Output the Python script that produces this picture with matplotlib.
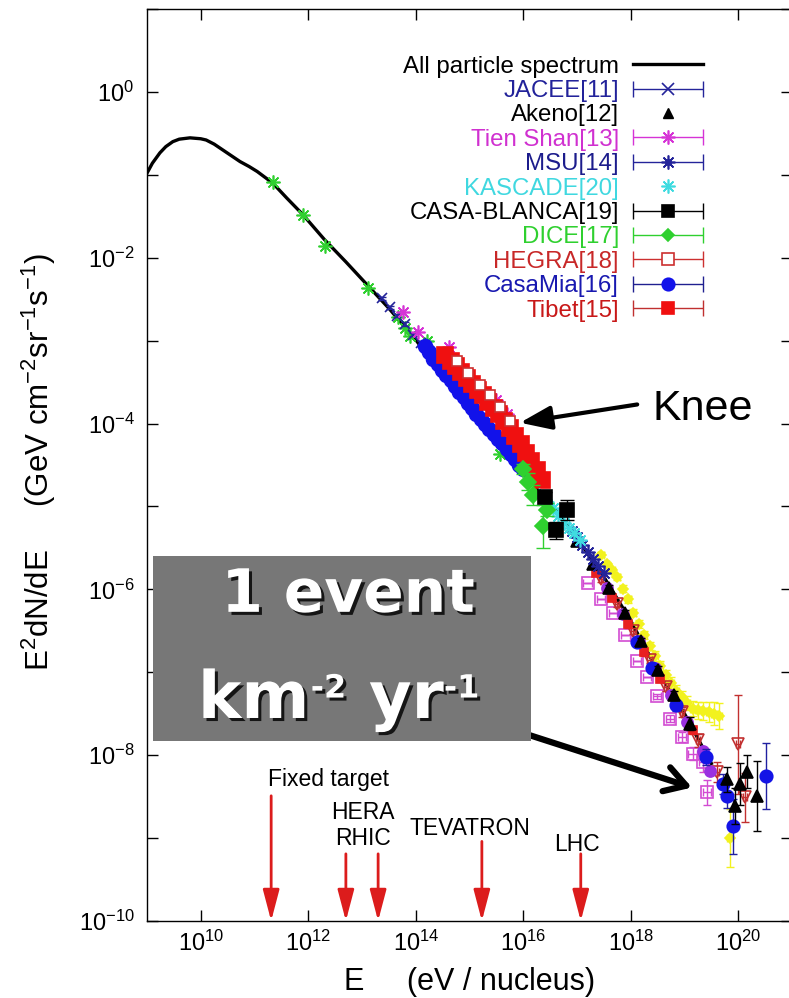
import numpy as np
import matplotlib
matplotlib.use('Agg')
import matplotlib.pyplot as plt
import matplotlib.patheffects as pe
from matplotlib.lines import Line2D
from matplotlib.collections import LineCollection
from matplotlib.container import ErrorbarContainer
from matplotlib.legend_handler import HandlerErrorbar
from matplotlib.patches import Rectangle
from matplotlib.ticker import NullLocator

plt.rcParams['font.family'] = ['Liberation Sans', 'DejaVu Sans']
plt.rcParams['mathtext.fontset'] = 'custom'
plt.rcParams['mathtext.rm'] = 'Liberation Sans'
plt.rcParams['mathtext.it'] = 'Liberation Sans:italic'
plt.rcParams['mathtext.bf'] = 'Liberation Sans:bold'
plt.rcParams['axes.unicode_minus'] = False

# --- data: log10(E / eV) and log10(E^2 dN/dE) ---
curve_logE = [9.0, 9.1, 9.24, 9.35, 9.48, 9.6, 9.8, 10.0, 10.1, 10.25, 10.41, 10.57, 10.73,
              10.9, 11.05, 11.34, 11.6, 11.9, 12.3, 12.7, 13.1, 13.5, 14.0, 14.5, 15.0,
              15.5, 16.0, 16.5, 17.0, 17.5, 18.0, 18.5, 19.0, 19.5]
curve_logF = [-0.98, -0.86, -0.735, -0.66, -0.60, -0.57, -0.554, -0.565, -0.58, -0.63, -0.70,
              -0.77, -0.84, -0.90, -0.96, -1.10, -1.28, -1.48, -1.78, -2.05, -2.33, -2.61,
              -2.99, -3.42, -3.84, -4.22, -4.58, -4.96, -5.38, -5.85, -6.38, -6.98, -7.50, -8.10]

direct_logE = [11.35, 11.9, 12.31, 13.11, 13.67, 13.80, 13.89, 14.21, 15.57]
direct_logF = [-1.09, -1.48, -1.86, -2.37, -2.72, -2.85, -2.95, -3.01, -4.37]

jacee_logE = [13.38, 13.52, 13.65, 13.80, 13.95, 14.10, 14.25]
jacee_logF = [-2.49, -2.60, -2.70, -2.80, -2.93, -3.03, -3.12]

tien_logE = [13.76, 14.04, 14.62, 15.50, 15.70]
tien_logF = [-2.65, -2.89, -3.08, -3.72, -3.88]

casamia_logE = [14.17, 14.25, 14.33, 14.41, 14.49, 14.57, 14.65, 14.73, 14.81, 14.89, 14.97,
                15.05, 15.13, 15.21, 15.29, 15.37, 15.45, 15.53, 15.61, 15.69, 15.77, 15.85,
                15.93, 16.00]
casamia_logF = [-3.07, -3.14, -3.22, -3.28, -3.36, -3.42, -3.47, -3.55, -3.62, -3.68, -3.75,
                -3.81, -3.88, -3.94, -4.01, -4.06, -4.13, -4.19, -4.24, -4.31, -4.37, -4.43,
                -4.50, -4.55]

tibet_logE = [14.55, 14.65, 14.75, 14.85, 14.95, 15.05, 15.15, 15.25, 15.35, 15.45, 15.55,
              15.65, 15.75, 15.85, 15.95, 16.05, 16.15, 16.25, 16.35]
tibet_logF = [-3.17, -3.25, -3.31, -3.38, -3.45, -3.52, -3.59, -3.66, -3.74, -3.81, -3.89,
              -3.97, -4.05, -4.15, -4.25, -4.35, -4.45, -4.56, -4.68]

hegra_logE = [14.77, 14.97, 15.20, 15.38, 15.57, 15.75]
hegra_logF = [-3.24, -3.39, -3.53, -3.65, -3.80, -3.97]

dice_logE = [16.00, 16.09, 16.18, 16.44, 16.37]
dice_logF = [-4.55, -4.70, -4.86, -5.04, -5.24]
dice_err = [0.06, 0.10, 0.12, 0.08, 0.26]

casab_logE = [16.40, 16.60, 16.82]
casab_logF = [-4.88, -5.29, -5.04]
casab_err = [0.06, 0.10, 0.12]

kascade_logE = [16.30, 16.45, 16.55, 16.65, 16.75, 16.85, 16.95, 17.06]
kascade_logF = [-4.86, -4.97, -5.02, -5.12, -5.20, -5.26, -5.32, -5.40]

msu_logE = [16.90, 17.00, 17.10, 17.20, 17.30, 17.40, 17.50]
msu_logF = [-5.30, -5.37, -5.47, -5.55, -5.63, -5.72, -5.80]

akeno_logE = [17.0, 17.3, 17.6, 17.9, 18.2, 18.5, 18.8, 19.1, 19.79, 19.94, 20.03, 20.16, 20.35]
akeno_logF = [-5.42, -5.70, -5.98, -6.28, -6.62, -6.97, -7.28, -7.62, -8.29, -8.61, -8.35, -8.20, -8.49]
akeno_err = [0.02, 0.02, 0.03, 0.03, 0.03, 0.04, 0.05, 0.08, 0.15, 0.22, 0.25, 0.20, 0.42]

yellow_logE = [17.45, 17.55, 17.65, 17.75, 17.85, 17.95, 18.05, 18.15, 18.25, 18.35, 18.45,
               18.55, 18.65, 18.75, 18.85, 18.95, 19.05, 19.15, 19.25, 19.35, 19.45, 19.55,
               19.65, 19.85]
yellow_logF = [-5.58, -5.70, -5.77, -5.85, -5.99, -6.12, -6.28, -6.42, -6.55, -6.68, -6.80,
               -6.93, -7.03, -7.13, -7.22, -7.30, -7.37, -7.44, -7.46, -7.47, -7.48, -7.50,
               -7.53, -9.00]
yellow_err = [0.03, 0.03, 0.03, 0.04, 0.04, 0.04, 0.04, 0.05, 0.05, 0.05, 0.06, 0.06, 0.06,
              0.07, 0.07, 0.08, 0.08, 0.09, 0.10, 0.11, 0.12, 0.14, 0.16, 0.35]

hires_logE = [17.20, 17.45, 17.67, 17.90, 18.12, 18.30, 18.49, 18.73, 18.95, 19.15, 19.35, 19.42]
hires_logF = [-5.92, -6.12, -6.28, -6.55, -6.86, -7.06, -7.29, -7.56, -7.78, -7.98, -8.08, -8.45]
hires_err = [0.0, 0.0, 0.0, 0.0, 0.0, 0.0, 0.03, 0.04, 0.06, 0.08, 0.12, 0.15]

redtri_logE = [17.45, 17.75, 18.05, 18.35, 18.65, 18.95, 19.25, 19.60, 20.00, 20.12]
redtri_logF = [-5.88, -6.18, -6.50, -6.85, -7.18, -7.48, -7.82, -8.20, -7.87, -8.51]
redtri_err = [0.03, 0.03, 0.04, 0.04, 0.05, 0.06, 0.08, 0.12, 0.60, 0.30]

purple_logE = [17.55, 17.85, 18.15, 18.45, 18.75, 19.05, 19.35, 19.47]
purple_logF = [-5.98, -6.30, -6.62, -6.95, -7.28, -7.60, -7.95, -8.19]

redsq_logE = [17.35, 17.65, 17.95, 18.25, 18.55, 18.85, 19.15]
redsq_logF = [-5.80, -6.10, -6.42, -6.76, -7.08, -7.40, -7.70]

blue_logE = [18.12, 18.40, 18.85, 19.40, 19.72, 19.79, 19.90, 20.52]
blue_logF = [-6.64, -6.95, -7.40, -8.02, -8.35, -8.49, -8.86, -8.25]
blue_err = [0.04, 0.05, 0.07, 0.10, 0.12, 0.15, 0.33, 0.40]

accel_logE = [11.31, 12.70, 13.30, 15.23, 17.07]
accel_top = [-8.49, -9.19, -9.19, -9.04, -9.19]
accel_labels = ['Fixed target', 'HERA', 'RHIC', 'TEVATRON', 'LHC']
accel_label_logE = [12.37, 13.02, 13.02, 15.01, 17.00]
accel_label_logF = [-8.29, -8.69, -9.01, -8.89, -9.08]


def draw(ax, logE, logF, err, color, marker, ms, ecolor=None, xerr=0.0,
         mfc=None, zorder=3, capsize=3, lw=1.0):
    logE = np.asarray(logE, float)
    logF = np.asarray(logF, float)
    err = np.broadcast_to(np.asarray(err, float), logF.shape)
    E, F = 10 ** logE, 10 ** logF
    yerr = [F - 10 ** (logF - err), 10 ** (logF + err) - F]
    xe = None
    if xerr:
        xe = [E - 10 ** (logE - xerr), 10 ** (logE + xerr) - E]
    ax.errorbar(E, F, yerr=yerr, xerr=xe, fmt='none', ecolor=ecolor or color,
                elinewidth=lw, capsize=capsize, zorder=zorder)
    ax.plot(E, F, ls='none', marker=marker, ms=ms, color=color,
            mfc=mfc if mfc is not None else color, mec=color, mew=1.2, zorder=zorder)


def err_handle(color, marker, ms, ecolor=None, mfc=None):
    line = Line2D([], [], ls='none', marker=marker, ms=ms, color=color,
                  mfc=mfc if mfc is not None else color, mec=color, mew=1.2)
    bar = LineCollection([], colors=ecolor or color, linewidths=1.0)
    cap = Line2D([], [], color=ecolor or color, ms=12, mew=1.0)
    return ErrorbarContainer((line, (cap, cap), (bar,)), has_xerr=True, has_yerr=False)


fig = plt.figure(figsize=(7.89, 9.98), dpi=100)
ax = fig.add_axes([147 / 789, 77 / 998, 645 / 789, 912 / 998])
ax.set_xscale('log')
ax.set_yscale('log')

star = (8, 2, 0)
navy = '#24249a'
magenta = '#d633d6'
green = '#2fd02f'
cyan = '#3fdbe0'

# all particle spectrum
ax.plot(10 ** np.array(curve_logE), 10 ** np.array(curve_logF), color='black', lw=2.4, zorder=2)

# data points
draw(ax, direct_logE, direct_logF, 0.0, green, star, 10, capsize=0, zorder=3)
draw(ax, jacee_logE, jacee_logF, 0.02, navy, 'x', 7, zorder=3)
draw(ax, tien_logE, tien_logF, 0.02, magenta, star, 10, capsize=0, zorder=3)
draw(ax, yellow_logE, yellow_logF, yellow_err, '#f2f21e', 'D', 5, xerr=0.05, zorder=3)
draw(ax, hires_logE, hires_logF, hires_err, '#d24bd2', 's', 8, xerr=0.08, mfc='none', zorder=3)
draw(ax, redtri_logE, redtri_logF, redtri_err, '#c23030', 'v', 8, xerr=0.04, mfc='none', zorder=3)
draw(ax, purple_logE, purple_logF, 0.04, '#9a30e0', 'o', 8, zorder=3)
draw(ax, redsq_logE, redsq_logF, 0.04, '#e82020', 's', 6, zorder=3)
draw(ax, blue_logE, blue_logF, blue_err, '#1414e6', 'o', 9, ecolor='#2020a0', zorder=4)
draw(ax, akeno_logE, akeno_logF, akeno_err, 'black', '^', 8, zorder=4)
draw(ax, casamia_logE, casamia_logF, 0.02, '#1212ea', 'o', 10, ecolor='#202090', zorder=4)
draw(ax, tibet_logE, tibet_logF, 0.02, '#f01010', 's', 11, ecolor='#c03030', zorder=5)
draw(ax, hegra_logE, hegra_logF, 0.02, '#cc3030', 's', 6.5, mfc='white', zorder=6)
draw(ax, msu_logE, msu_logF, 0.02, navy, star, 10, capsize=0, zorder=5)
draw(ax, kascade_logE, kascade_logF, 0.0, cyan, star, 10, capsize=0, zorder=5)
draw(ax, dice_logE, dice_logF, dice_err, green, 'D', 8, capsize=5, zorder=6)
draw(ax, casab_logE, casab_logF, casab_err, 'black', 's', 10, capsize=5, zorder=6)

ax.set_xlim(1e9, 1e21)
ax.set_ylim(1e-10, 1e1)

# ticks
xt = [10, 12, 14, 16, 18, 20]
yt = list(range(-10, 2))
ax.set_xticks([10.0 ** k for k in xt])
ax.set_xticklabels([r'$10^{%d}$' % k for k in xt])
ax.set_yticks([10.0 ** k for k in yt])
ax.set_yticklabels([r'$10^{%d}$' % k if k % 2 == 0 else '' for k in yt])
ax.xaxis.set_minor_locator(NullLocator())
ax.yaxis.set_minor_locator(NullLocator())
ax.tick_params(which='major', direction='in', top=True, right=True, length=8,
               width=1.0, labelsize=17)
ax.tick_params(axis='x', pad=7)
ax.tick_params(axis='y', pad=9)
for s in ax.spines.values():
    s.set_linewidth(1.0)

ax.set_xlabel('E     (eV / nucleus)', fontsize=22)
ax.xaxis.set_label_coords(0.5, -0.0505)
ax.set_ylabel('E$^2$dN/dE     (GeV cm$^{-2}$sr$^{-1}$s$^{-1}$)', fontsize=22.5)
ax.yaxis.set_label_coords(-0.138, 0.503)

# accelerator energies
for lab, lx, ly in zip(accel_labels, accel_label_logE, accel_label_logF):
    ax.text(10 ** lx, 10 ** ly, lab, ha='center', va='center', fontsize=16.5)
for xe, top in zip(accel_logE, accel_top):
    ax.annotate('', xy=(10 ** xe, 1e-10), xytext=(10 ** xe, 10 ** top),
                arrowprops=dict(arrowstyle='-|>,head_length=1.9,head_width=0.5',
                                mutation_scale=10, lw=2, color='#dc1c1c',
                                shrinkA=0, shrinkB=0), annotation_clip=False)

# knee
ax.text(10 ** 18.41, 10 ** -3.83, 'Knee', ha='left', va='center', fontsize=31)
ax.annotate('', xy=(10 ** 15.94, 10 ** -3.99), xytext=(10 ** 18.12, 10 ** -3.77),
            arrowprops=dict(arrowstyle='-|>,head_length=0.95,head_width=0.36',
                            mutation_scale=20, lw=3, color='black',
                            shrinkA=0, shrinkB=0), zorder=8)

# 1 event box
ax.annotate('', xy=(10 ** 19.14, 10 ** -8.39), xytext=(10 ** 15.79, 10 ** -7.69),
            arrowprops=dict(arrowstyle='->,head_length=0.75,head_width=0.45',
                            mutation_scale=20, lw=4.5, color='black',
                            shrinkA=0, shrinkB=0), zorder=9)
ax.add_patch(Rectangle((0.0093, 0.197), 0.586, 0.203, transform=ax.transAxes,
                       facecolor='#777777', edgecolor='none', zorder=10, clip_on=False))
shadow = [pe.withSimplePatchShadow(offset=(2.2, -2.2), shadow_rgbFace='#151515', alpha=1.0)]
big = dict(family='DejaVu Sans', weight='bold', color='white', zorder=12, path_effects=shadow)
ax.text(0.312, 0.339, '1 event', transform=ax.transAxes, ha='center', va='baseline',
        fontsize=43, **big)
t_km = ax.text(0.079, 0.2226, 'km', transform=ax.transAxes, ha='left', va='baseline',
               fontsize=47, **big)
t_m2 = ax.annotate('-2', xy=(1, 1), xycoords=t_km, xytext=(1, -4), textcoords='offset points',
                   ha='left', va='top', fontsize=23, **big)
t_yr = ax.annotate(' yr', xy=(1, 0), xycoords=(t_m2, t_km), ha='left', va='bottom',
                   fontsize=47, **big)
ax.annotate('-1', xy=(1, 1), xycoords=t_yr, xytext=(0, -4), textcoords='offset points',
            ha='left', va='top', fontsize=23, **big)

# legend
handles = [
    Line2D([], [], color='black', lw=2.4),
    err_handle(navy, 'x', 9),
    Line2D([], [], ls='none', marker='^', ms=7, color='black'),
    err_handle(magenta, star, 10),
    (err_handle(navy, star, 10), Line2D([], [], ls='none', marker='o', ms=4, color=navy)),
    Line2D([], [], ls='none', marker=star, ms=10, color=cyan, mew=1.2),
    err_handle('black', 's', 8),
    err_handle(green, 'D', 6),
    err_handle('#cc3030', 's', 8, mfc='white'),
    err_handle('#1212ea', 'o', 9, ecolor='#202090'),
    err_handle('#f01010', 's', 8, ecolor='#c03030'),
]
labels = ['All particle spectrum', 'JACEE[11]', 'Akeno[12]', 'Tien Shan[13]', 'MSU[14]',
          'KASCADE[20]', 'CASA-BLANCA[19]', 'DICE[17]', 'HEGRA[18]', 'CasaMia[16]', 'Tibet[15]']
label_colors = ['black', '#22229a', 'black', '#d030d0', '#1c1c8c', '#40d8e0', 'black',
                '#2fd02f', '#c82828', '#1818b0', '#c81818']
ax.legend(handles, labels, loc='upper right', bbox_to_anchor=(0.862, 0.949),
          borderaxespad=0, borderpad=0, frameon=False, markerfirst=False,
          handlelength=2.9, handletextpad=0.6, labelspacing=0.1, fontsize=17.3,
          labelcolor=label_colors, handler_map={ErrorbarContainer: HandlerErrorbar(xerr_size=1.45)})

fig.savefig('out.png', dpi=100)
